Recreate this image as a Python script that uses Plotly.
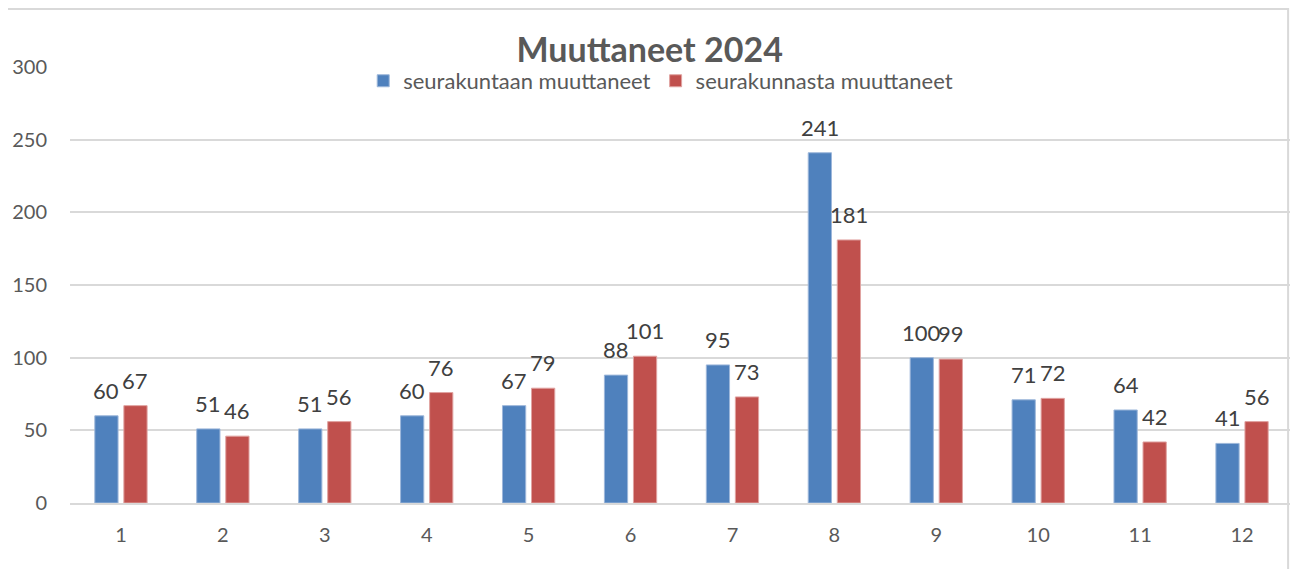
import plotly.graph_objects as go

months = ["1", "2", "3", "4", "5", "6", "7", "8", "9", "10", "11", "12"]
muuttaneet_sisaan = [60, 51, 51, 60, 67, 88, 95, 241, 100, 71, 64, 41]
muuttaneet_ulos = [67, 46, 56, 76, 79, 101, 73, 181, 99, 72, 42, 56]

FONT = "Lato"
TXT = "#404040"
AXT = "#595959"

fig = go.Figure()
fig.add_trace(go.Bar(x=months, y=muuttaneet_sisaan, name="seurakuntaan muuttaneet",
                     marker=dict(color="#4F81BD", line=dict(color="#9DB7DA", width=1))))
fig.add_trace(go.Bar(x=months, y=muuttaneet_ulos, name="seurakunnasta muuttaneet",
                     marker=dict(color="#C0504D", line=dict(color="#E0A3A1", width=1))))

# data labels above each bar (category axis -> x is the category index)
annots = []
for xs, series in ((-14.5, muuttaneet_sisaan), (14.5, muuttaneet_ulos)):
    for i, v in enumerate(series):
        annots.append(dict(x=i, y=v, xref="x", yref="y", text=str(v), showarrow=False, xshift=xs,
                           yanchor="bottom", yshift=10,
                           font=dict(family=FONT, size=22, color=TXT)))

# the page body adds an 8px offset, margins account for that
fig.update_layout(
    width=1298, height=569,
    margin=dict(l=62, r=13, t=59, b=74, autoexpand=False),
    paper_bgcolor="white", plot_bgcolor="white",
    barmode="group", bargap=0.43, bargroupgap=0.2,
    title=dict(text="<b>Muuttaneet 2024</b>", x=0.474, xanchor="center", xref="paper",
               yref="container", y=0.926, yanchor="middle",
               font=dict(family=FONT, size=34, color=AXT)),
    legend=dict(orientation="h", x=0.483, xanchor="center", y=0.968, yanchor="middle",
                font=dict(family=FONT, size=22, color=AXT), itemwidth=30,
                traceorder="normal", bgcolor="rgba(0,0,0,0)"),
    annotations=annots,
    shapes=[dict(type="rect", xref="paper", yref="paper", x0=-0.0515, x1=0.996, y0=-0.2, y1=1.133,
                 line=dict(color="#D9D9D9", width=2), layer="below")],
    font=dict(family=FONT),
)
fig.update_yaxes(range=[0, 300], dtick=50, showgrid=True, gridcolor="#D9D9D9", gridwidth=2,
                 zeroline=False, showline=False, ticklabelstandoff=22,
                 tickfont=dict(family=FONT, size=20, color=AXT))
fig.update_xaxes(showline=True, linecolor="#D9D9D9", linewidth=2, ticks="", ticklabelstandoff=13,
                 tickfont=dict(family=FONT, size=20, color=AXT))

fig.write_html("out.html")
